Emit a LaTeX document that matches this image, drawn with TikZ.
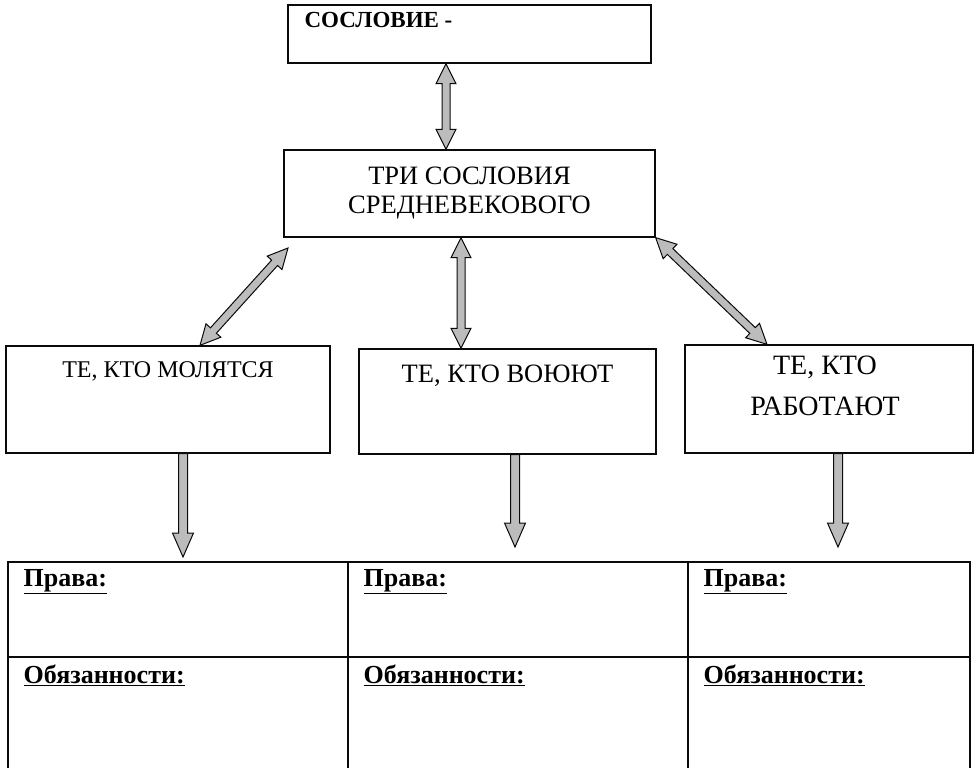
\documentclass[tikz,border=0pt]{standalone}
\usepackage{fontspec}
\setmainfont{Liberation Serif}
\usepackage{tikz}
\usetikzlibrary{calc}
\usepackage{xcolor}
\definecolor{arrowgray}{RGB}{188,188,188}
\definecolor{lineblack}{RGB}{10,10,10}
\tikzstyle{estatebox} = [rectangle, draw=lineblack, line width=1.3pt, inner sep=0pt]
\tikzstyle{cell} = [rectangle, draw=lineblack, line width=1.1pt, inner sep=0pt]
\tikzstyle{arrowbody} = [fill=arrowgray, draw=lineblack, line width=1pt, line join=miter]
\tikzstyle{boxtext} = [anchor=base, inner sep=0pt, font=\fontsize{26.5}{29}\selectfont]
\tikzstyle{celltext} = [anchor=base west, inner sep=0pt, font=\fontsize{26}{30}\selectfont\bfseries]
% block arrow with two heads
\newcommand{\twoway}[2]{%
\filldraw[arrowbody] (#1) -- ($(#1)!20pt!(#2)!10pt!90:(#2)$) -- ($(#1)!20pt!(#2)!4pt!90:(#2)$)
  -- ($(#2)!20pt!(#1)!4pt!-90:(#1)$) -- ($(#2)!20pt!(#1)!10pt!-90:(#1)$) -- (#2)
  -- ($(#2)!20pt!(#1)!10pt!90:(#1)$) -- ($(#2)!20pt!(#1)!4pt!90:(#1)$)
  -- ($(#1)!20pt!(#2)!4pt!-90:(#2)$) -- ($(#1)!20pt!(#2)!10pt!-90:(#2)$) -- cycle;}
% block arrow with one head
\newcommand{\oneway}[2]{%
\filldraw[arrowbody] ($(#1)!4.5pt!90:(#2)$) -- ($(#2)!24pt!(#1)!4.5pt!-90:(#1)$)
  -- ($(#2)!24pt!(#1)!10.5pt!-90:(#1)$) -- (#2) -- ($(#2)!24pt!(#1)!10.5pt!90:(#1)$)
  -- ($(#2)!24pt!(#1)!4.5pt!90:(#1)$) -- ($(#1)!4.5pt!-90:(#2)$) -- cycle;}

\begin{document}
\begin{tikzpicture}[x=1pt,y=-1pt]
\useasboundingbox (0,0) rectangle (975,768);

% Top boxes
\node[estatebox, minimum width=363pt, minimum height=58pt] (estate) at (469.5,34) {};
\node[anchor=base west, inner sep=0pt, font=\fontsize{23}{27}\selectfont\bfseries] (estatelabel) at ([xshift=17pt,yshift=-23pt]estate.north west) {СОСЛОВИЕ -};
\node[estatebox, minimum width=371pt, minimum height=87pt, align=center, font=\fontsize{26.5}{29}\selectfont] (tri) at (469.5,193.5) {ТРИ СОСЛОВИЯ\\СРЕДНЕВЕКОВОГО};

% Three estates
\node[estatebox, minimum width=324pt, minimum height=107pt] (pray) at (168,399.5) {};
\node[boxtext, font=\fontsize{24}{28}\selectfont] (praylabel) at ([yshift=-32pt]pray.north) {ТЕ, КТО МОЛЯТСЯ};
\node[estatebox, minimum width=297pt, minimum height=105pt] (fight) at (507.5,401.5) {};
\node[boxtext] (fightlabel) at ([yshift=-34pt]fight.north) {ТЕ, КТО ВОЮЮТ};
\node[estatebox, minimum width=288pt, minimum height=108pt] (work) at (829,399) {};
\node[anchor=north, inner sep=0pt, align=center, font=\fontsize{28}{41}\selectfont] (worklabel) at ([xshift=-4pt,yshift=-11.3pt]work.north) {ТЕ, КТО\\РАБОТАЮТ};

% Table
\node[cell, minimum width=340pt, minimum height=95pt] (rights1) at (178,609.5) {};
\node[cell, minimum width=340pt, minimum height=95pt] (rights2) at (518,609.5) {};
\node[cell, minimum width=282pt, minimum height=95pt] (rights3) at (829,609.5) {};
\node[cell, minimum width=340pt, minimum height=120pt] (duties1) at (178,717) {};
\node[cell, minimum width=340pt, minimum height=120pt] (duties2) at (518,717) {};
\node[cell, minimum width=282pt, minimum height=120pt] (duties3) at (829,717) {};
\node[celltext] (rightslabel1) at ([xshift=16pt,yshift=-25pt]rights1.north west) {\underline{Права:}};
\node[celltext] (rightslabel2) at ([xshift=16pt,yshift=-25pt]rights2.north west) {\underline{Права:}};
\node[celltext] (rightslabel3) at ([xshift=16pt,yshift=-25pt]rights3.north west) {\underline{Права:}};
\node[celltext] (dutieslabel1) at ([xshift=16pt,yshift=-27pt]duties1.north west) {\underline{Обязанности:}};
\node[celltext] (dutieslabel2) at ([xshift=16pt,yshift=-27pt]duties2.north west) {\underline{Обязанности:}};
\node[celltext] (dutieslabel3) at ([xshift=16pt,yshift=-27pt]duties3.north west) {\underline{Обязанности:}};

% Arrows between boxes
\coordinate (estatefoot) at ([xshift=-23.5pt]estate.south);
\coordinate (trihead) at ([xshift=-23.5pt]tri.north);
\twoway{estatefoot}{trihead}
\coordinate (trileft) at (288,248);
\coordinate (prayhead) at ([xshift=32pt]pray.north);
\twoway{trileft}{prayhead}
\coordinate (trimid) at ([xshift=-8.5pt]tri.south);
\coordinate (fighthead) at ([xshift=-46.5pt]fight.north);
\twoway{trimid}{fighthead}
\coordinate (workhead) at ([xshift=-62pt]work.north);
\twoway{tri.south east}{workhead}

% Arrows down to the table
\coordinate (prayfoot) at ([xshift=15pt]pray.south);
\coordinate (prayend) at (183,557);
\oneway{prayfoot}{prayend}
\coordinate (fightfoot) at ([xshift=7.5pt]fight.south);
\coordinate (fightend) at (515,547);
\oneway{fightfoot}{fightend}
\coordinate (workfoot) at ([xshift=9pt]work.south);
\coordinate (workend) at (838,547);
\oneway{workfoot}{workend}
\end{tikzpicture}
\end{document}
